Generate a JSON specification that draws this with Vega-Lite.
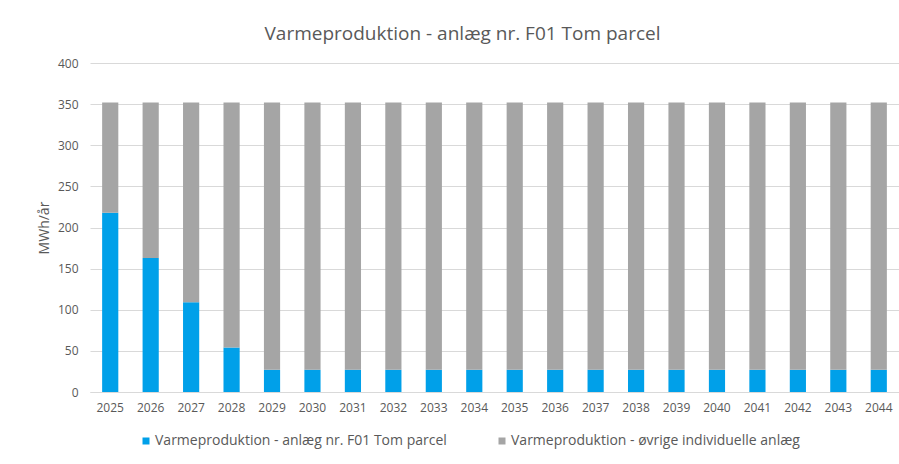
{
  "$schema": "https://vega.github.io/schema/vega-lite/v6.json",
  "autosize": "none",
  "width": 809,
  "height": 329,
  "padding": {"left": 90, "top": 63, "right": 0, "bottom": 72},
  "background": "white",
  "title": {
    "text": "Varmeproduktion - anlæg nr. F01 Tom parcel",
    "font": "Open Sans",
    "fontSize": 19,
    "fontWeight": "normal",
    "color": "#595959",
    "anchor": "middle",
    "dx": -32,
    "offset": 13
  },
  "data": {
    "values": [
      {"year": "2025", "serie": "Varmeproduktion - anlæg nr. F01 Tom parcel", "mwh": 218},
      {"year": "2026", "serie": "Varmeproduktion - anlæg nr. F01 Tom parcel", "mwh": 163},
      {"year": "2027", "serie": "Varmeproduktion - anlæg nr. F01 Tom parcel", "mwh": 109},
      {"year": "2028", "serie": "Varmeproduktion - anlæg nr. F01 Tom parcel", "mwh": 54},
      {"year": "2029", "serie": "Varmeproduktion - anlæg nr. F01 Tom parcel", "mwh": 27},
      {"year": "2030", "serie": "Varmeproduktion - anlæg nr. F01 Tom parcel", "mwh": 27},
      {"year": "2031", "serie": "Varmeproduktion - anlæg nr. F01 Tom parcel", "mwh": 27},
      {"year": "2032", "serie": "Varmeproduktion - anlæg nr. F01 Tom parcel", "mwh": 27},
      {"year": "2033", "serie": "Varmeproduktion - anlæg nr. F01 Tom parcel", "mwh": 27},
      {"year": "2034", "serie": "Varmeproduktion - anlæg nr. F01 Tom parcel", "mwh": 27},
      {"year": "2035", "serie": "Varmeproduktion - anlæg nr. F01 Tom parcel", "mwh": 27},
      {"year": "2036", "serie": "Varmeproduktion - anlæg nr. F01 Tom parcel", "mwh": 27},
      {"year": "2037", "serie": "Varmeproduktion - anlæg nr. F01 Tom parcel", "mwh": 27},
      {"year": "2038", "serie": "Varmeproduktion - anlæg nr. F01 Tom parcel", "mwh": 27},
      {"year": "2039", "serie": "Varmeproduktion - anlæg nr. F01 Tom parcel", "mwh": 27},
      {"year": "2040", "serie": "Varmeproduktion - anlæg nr. F01 Tom parcel", "mwh": 27},
      {"year": "2041", "serie": "Varmeproduktion - anlæg nr. F01 Tom parcel", "mwh": 27},
      {"year": "2042", "serie": "Varmeproduktion - anlæg nr. F01 Tom parcel", "mwh": 27},
      {"year": "2043", "serie": "Varmeproduktion - anlæg nr. F01 Tom parcel", "mwh": 27},
      {"year": "2044", "serie": "Varmeproduktion - anlæg nr. F01 Tom parcel", "mwh": 27},
      {"year": "2025", "serie": "Varmeproduktion - øvrige individuelle anlæg", "mwh": 134},
      {"year": "2026", "serie": "Varmeproduktion - øvrige individuelle anlæg", "mwh": 189},
      {"year": "2027", "serie": "Varmeproduktion - øvrige individuelle anlæg", "mwh": 243},
      {"year": "2028", "serie": "Varmeproduktion - øvrige individuelle anlæg", "mwh": 298},
      {"year": "2029", "serie": "Varmeproduktion - øvrige individuelle anlæg", "mwh": 325},
      {"year": "2030", "serie": "Varmeproduktion - øvrige individuelle anlæg", "mwh": 325},
      {"year": "2031", "serie": "Varmeproduktion - øvrige individuelle anlæg", "mwh": 325},
      {"year": "2032", "serie": "Varmeproduktion - øvrige individuelle anlæg", "mwh": 325},
      {"year": "2033", "serie": "Varmeproduktion - øvrige individuelle anlæg", "mwh": 325},
      {"year": "2034", "serie": "Varmeproduktion - øvrige individuelle anlæg", "mwh": 325},
      {"year": "2035", "serie": "Varmeproduktion - øvrige individuelle anlæg", "mwh": 325},
      {"year": "2036", "serie": "Varmeproduktion - øvrige individuelle anlæg", "mwh": 325},
      {"year": "2037", "serie": "Varmeproduktion - øvrige individuelle anlæg", "mwh": 325},
      {"year": "2038", "serie": "Varmeproduktion - øvrige individuelle anlæg", "mwh": 325},
      {"year": "2039", "serie": "Varmeproduktion - øvrige individuelle anlæg", "mwh": 325},
      {"year": "2040", "serie": "Varmeproduktion - øvrige individuelle anlæg", "mwh": 325},
      {"year": "2041", "serie": "Varmeproduktion - øvrige individuelle anlæg", "mwh": 325},
      {"year": "2042", "serie": "Varmeproduktion - øvrige individuelle anlæg", "mwh": 325},
      {"year": "2043", "serie": "Varmeproduktion - øvrige individuelle anlæg", "mwh": 325},
      {"year": "2044", "serie": "Varmeproduktion - øvrige individuelle anlæg", "mwh": 325}
    ]
  },
  "mark": {"type": "bar"},
  "encoding": {
    "x": {
      "field": "year",
      "type": "ordinal",
      "scale": {"paddingInner": 0.6, "paddingOuter": 0.3},
      "axis": {
        "title": null,
        "labelAngle": 0,
        "labelFont": "Open Sans",
        "labelFontSize": 12,
        "labelColor": "#595959",
        "labelPadding": 10,
        "ticks": false,
        "domain": true,
        "domainColor": "#D9D9D9",
        "grid": false
      }
    },
    "y": {
      "field": "mwh",
      "type": "quantitative",
      "stack": "zero",
      "scale": {"domain": [0, 400], "nice": false},
      "axis": {
        "title": "MWh/år",
        "titleFont": "Open Sans",
        "titleFontSize": 14,
        "titleFontWeight": "normal",
        "titleColor": "#595959",
        "titlePadding": 6,
        "values": [0, 50, 100, 150, 200, 250, 300, 350, 400],
        "labelFont": "Open Sans",
        "labelFontSize": 12,
        "labelColor": "#595959",
        "labelPadding": 12,
        "ticks": false,
        "domain": false,
        "grid": true,
        "gridColor": "#D9D9D9",
        "gridWidth": 1
      }
    },
    "color": {
      "field": "serie",
      "type": "nominal",
      "scale": {
        "domain": ["Varmeproduktion - anlæg nr. F01 Tom parcel", "Varmeproduktion - øvrige individuelle anlæg"],
        "range": ["#00A0E9", "#A5A5A5"]
      },
      "legend": {
        "title": null,
        "orient": "none",
        "direction": "horizontal",
        "columns": 2,
        "legendX": 49,
        "legendY": 371,
        "symbolType": "square",
        "symbolSize": 49,
        "symbolStrokeWidth": 0,
        "labelFont": "Open Sans",
        "labelFontSize": 14,
        "labelColor": "#595959",
        "labelOffset": 2,
        "columnPadding": 48,
        "labelLimit": 400
      }
    },
    "order": {"field": "serie", "sort": "ascending"}
  },
  "config": {"view": {"stroke": null}}
}
